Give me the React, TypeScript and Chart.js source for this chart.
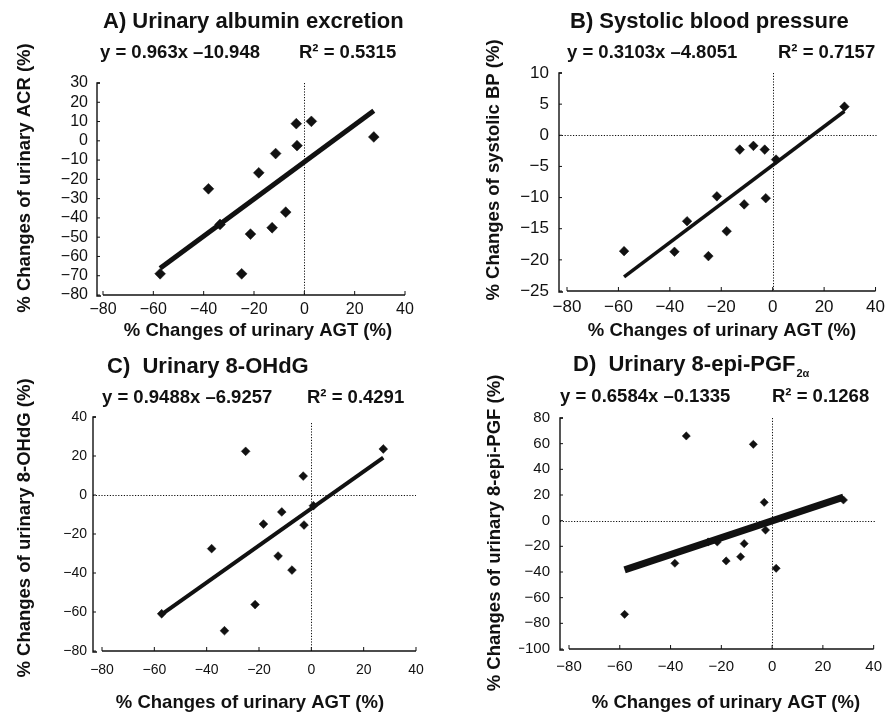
import React, { useEffect, useRef } from "react";
import { Chart, registerables } from "chart.js";

Chart.register(...registerables);

const FONT = '"Liberation Sans", Arial, Helvetica, sans-serif';
const INK = "#111111";
const PAGE_W = 891;
const PAGE_H = 713;

// Shared x axis (urinary AGT change, %)
const agtMin = -80;
const agtMax = 40;
const agtStep = 20;
const agtTitle = "% Changes of urinary AGT (%)";

// A) Urinary albumin excretion
const agtA = [-57.3, -38.1, -33.5, -24.9, -21.4, -18.1, -12.8, -11.4, -7.4, -3.2, -2.9, 2.8, 27.6];
const acrA = [-69, -24.9, -43.4, -69, -48.4, -16.6, -45.1, -6.6, -37, 8.9, -2.5, 10.1, 2];
const slopeA = 0.963;
const interceptA = -10.948;
const r2A = 0.5315;

// B) Systolic blood pressure
const agtB = [-57.8, -38.2, -33.3, -25.0, -21.7, -17.9, -12.8, -11.1, -7.5, -3.1, -2.7, 1.3, 27.9];
const sbpB = [-18.6, -18.7, -13.8, -19.4, -9.8, -15.4, -2.3, -11.1, -1.7, -2.3, -10.1, -3.9, 4.6];
const slopeB = 0.3103;
const interceptB = -4.8051;
const r2B = 0.7157;

// C) Urinary 8-OHdG
const agtC = [-57.2, -38.1, -33.2, -25.1, -21.5, -18.3, -12.7, -11.3, -7.4, -3.1, -2.8, 0.8, 27.5];
const ohdgC = [-60.9, -27.5, -69.6, 22.4, -56.2, -14.9, -31.3, -8.7, -38.5, 9.7, -15.4, -5.5, 23.6];
const slopeC = 0.9488;
const interceptC = -6.9257;
const r2C = 0.4291;

// D) Urinary 8-epi-PGF2a
const agtD = [-58.1, -38.3, -33.8, -25.2, -21.6, -18.1, -12.4, -11.0, -7.4, -3.1, -2.6, 1.6, 28.1];
const pgfD = [-73, -33.2, 66, -16.6, -16.6, -31.4, -28.1, -17.9, 59.5, 14.3, -7.3, -37.1, 16.1];
const slopeD = 0.6584;
const interceptD = -0.1335;
const r2D = 0.1268;

const eqText = (s: number, b: number) => `y = ${s}x ${b < 0 ? "\u2013" : "+"}${Math.abs(b)}`;
const r2Text = (r: number) => `R\u00B2 = ${r}`;

type PanelCfg = {
  xs: number[];
  ys: number[];
  slope: number;
  intercept: number;
  r2: number;
  yMin: number;
  yMax: number;
  yStep: number;
  area: [number, number, number, number];
  yOffset: number;
  tickSize: number;
  yPad: number;
  xPad: number;
  lineWidth: number;
  pointRadius: number;
  hZero: boolean;
  hExtend: number;
  vTopGap: number;
  title: string;
  titleSub?: string;
  titleX: number;
  titleY: number;
  eqX: number;
  r2X: number;
  eqY: number;
  yTitle: string;
  yTitleX: number;
  yTitleY: number;
  xTitleX: number;
  xTitleY: number;
};

const panels: PanelCfg[] = [
  {
    xs: agtA, ys: acrA, slope: slopeA, intercept: interceptA, r2: r2A,
    yMin: -80, yMax: 30, yStep: 10,
    area: [103, 83, 405, 295], yOffset: 6, tickSize: 16, yPad: 15, xPad: 5,
    lineWidth: 5, pointRadius: 5.4, hZero: false, hExtend: 0, vTopGap: 0,
    title: "A) Urinary albumin excretion", titleX: 103, titleY: 22,
    eqX: 100, r2X: 299, eqY: 53,
    yTitle: "% Changes of urinary ACR (%)", yTitleX: 25, yTitleY: 178,
    xTitleX: 258, xTitleY: 331,
  },
  {
    xs: agtB, ys: sbpB, slope: slopeB, intercept: interceptB, r2: r2B,
    yMin: -25, yMax: 10, yStep: 5,
    area: [567, 73, 877, 291], yOffset: 8, tickSize: 17, yPad: 18, xPad: 6,
    lineWidth: 3.6, pointRadius: 4.8, hZero: true, hExtend: 1, vTopGap: 0,
    title: "B) Systolic blood pressure", titleX: 570, titleY: 22,
    eqX: 567, r2X: 778, eqY: 53,
    yTitle: "% Changes of systolic BP (%)", yTitleX: 494, yTitleY: 170,
    xTitleX: 722, xTitleY: 331,
  },
  {
    xs: agtC, ys: ohdgC, slope: slopeC, intercept: interceptC, r2: r2C,
    yMin: -80, yMax: 40, yStep: 20,
    area: [102, 417, 416, 651], yOffset: 9, tickSize: 14, yPad: 15, xPad: 11,
    lineWidth: 4, pointRadius: 4.4, hZero: true, hExtend: 0, vTopGap: 6,
    title: "C)  Urinary 8-OHdG", titleX: 107, titleY: 367,
    eqX: 102, r2X: 307, eqY: 398,
    yTitle: "% Changes of urinary 8-OHdG (%)", yTitleX: 25, yTitleY: 528,
    xTitleX: 250, xTitleY: 703,
  },
  {
    xs: agtD, ys: pgfD, slope: slopeD, intercept: interceptD, r2: r2D,
    yMin: -100, yMax: 80, yStep: 20,
    area: [569, 418, 878, 649], yOffset: 9, tickSize: 15, yPad: 19, xPad: 9,
    lineWidth: 7, pointRadius: 4.1, hZero: true, hExtend: 2, vTopGap: 0,
    title: "D)  Urinary 8-epi-PGF", titleSub: "2\u03B1", titleX: 573, titleY: 365,
    eqX: 560, r2X: 772, eqY: 397,
    yTitle: "% Changes of urinary 8-epi-PGF (%)", yTitleX: 495, yTitleY: 533,
    xTitleX: 726, xTitleY: 703,
  },
];

const decorPlugin = {
  id: "decor",
  beforeDatasetsDraw(chart: any, _args: any, o: any) {
    const { ctx, chartArea: ca, scales } = chart;
    const x = scales.x;
    const y = scales.y;
    ctx.save();
    ctx.strokeStyle = INK;
    ctx.lineWidth = 1;
    ctx.setLineDash([1.2, 1.6]);
    const x0 = Math.round(x.getPixelForValue(0)) + 0.5;
    ctx.beginPath();
    ctx.moveTo(x0, ca.top + o.vTopGap);
    ctx.lineTo(x0, ca.bottom);
    ctx.stroke();
    const ax = ca.left - o.yOffset;
    if (o.hZero) {
      const y0 = Math.round(y.getPixelForValue(0)) + 0.5;
      ctx.beginPath();
      ctx.moveTo(ax, y0);
      ctx.lineTo(ca.right + o.hExtend, y0);
      ctx.stroke();
    }
    ctx.setLineDash([]);
    ctx.lineWidth = 1.4;
    ctx.beginPath();
    ctx.moveTo(ax + 3, ca.top);
    ctx.lineTo(ax, ca.top);
    ctx.lineTo(ax, ca.bottom + 1);
    ctx.lineTo(ax + 4, ca.bottom + 1);
    ctx.stroke();
    ctx.beginPath();
    ctx.moveTo(ca.left, ca.bottom);
    ctx.lineTo(ca.right, ca.bottom);
    ctx.stroke();
    ctx.lineWidth = 1;
    for (const t of y.ticks) {
      const py = y.getPixelForValue(t.value);
      ctx.beginPath();
      ctx.moveTo(ax, py);
      ctx.lineTo(ax + 3, py);
      ctx.stroke();
    }
    for (const t of x.ticks) {
      const px = x.getPixelForValue(t.value);
      ctx.beginPath();
      ctx.moveTo(px, ca.bottom);
      ctx.lineTo(px, ca.bottom - 4);
      ctx.stroke();
    }
    ctx.restore();
  },
  afterDraw(chart: any, _args: any, o: any) {
    const ctx = chart.ctx;
    ctx.save();
    ctx.fillStyle = INK;
    ctx.textBaseline = "middle";
    ctx.textAlign = "left";
    ctx.font = `bold 22px ${FONT}`;
    ctx.fillText(o.title, o.titleX, o.titleY);
    if (o.titleSub) {
      const w = ctx.measureText(o.title).width;
      ctx.font = `bold 11px ${FONT}`;
      ctx.fillText(o.titleSub, o.titleX + w + 1, o.titleY + 9);
    }
    ctx.font = `bold 18.5px ${FONT}`;
    ctx.fillText(o.eq, o.eqX, o.eqY);
    ctx.fillText(o.r2, o.r2X, o.eqY);
    ctx.textAlign = "center";
    ctx.fillText(o.xTitle, o.xTitleX, o.xTitleY);
    ctx.translate(o.yTitleX, o.yTitleY);
    ctx.rotate(-Math.PI / 2);
    ctx.fillText(o.yTitle, 0, 0);
    ctx.restore();
  },
};

const minusTick = (v: any) => String(v).replace("-", "\u2212");

function Panel({ cfg }: { cfg: PanelCfg }) {
  const ref = useRef<HTMLCanvasElement | null>(null);
  useEffect(() => {
    if (!ref.current) return;
    const [L, T, R, B] = cfg.area;
    const yW = 50;
    const xH = 40;
    const xLo = Math.min(...cfg.xs);
    const xHi = Math.max(...cfg.xs);
    const points = cfg.xs.map((x, i) => ({ x, y: cfg.ys[i] }));
    const fit = [xLo, xHi].map((x) => ({ x, y: cfg.slope * x + cfg.intercept }));
    const tickFont = { family: FONT, size: cfg.tickSize };
    const chart = new Chart(ref.current, {
      type: "scatter",
      data: {
        datasets: [
          {
            data: points,
            pointStyle: "rectRot",
            pointRadius: cfg.pointRadius,
            pointBackgroundColor: INK,
            pointBorderColor: INK,
            pointBorderWidth: 0.5,
            showLine: false,
          },
          {
            data: fit,
            showLine: true,
            borderColor: INK,
            borderWidth: cfg.lineWidth,
            pointRadius: 0,
            borderCapStyle: "butt",
          } as any,
        ],
      },
      options: {
        animation: false,
        responsive: false,
        events: [],
        layout: {
          padding: { left: L - yW, top: T, right: PAGE_W - R, bottom: PAGE_H - B - xH },
        },
        scales: {
          x: {
            type: "linear",
            min: agtMin,
            max: agtMax,
            afterFit: (s: any) => {
              s.height = xH;
            },
            ticks: { stepSize: agtStep, font: tickFont, color: INK, padding: cfg.xPad, callback: minusTick, maxRotation: 0, autoSkip: false },
            grid: { display: false, drawTicks: false },
            border: { display: false },
          },
          y: {
            type: "linear",
            min: cfg.yMin,
            max: cfg.yMax,
            afterFit: (s: any) => {
              s.width = yW;
            },
            ticks: { stepSize: cfg.yStep, font: tickFont, color: INK, padding: cfg.yPad, callback: minusTick, autoSkip: false },
            grid: { display: false, drawTicks: false },
            border: { display: false },
          },
        },
        plugins: {
          legend: { display: false },
          tooltip: { enabled: false },
          decor: {
            vTopGap: cfg.vTopGap,
            hZero: cfg.hZero,
            hExtend: cfg.hExtend,
            yOffset: cfg.yOffset,
            title: cfg.title,
            titleSub: cfg.titleSub || "",
            titleX: cfg.titleX,
            titleY: cfg.titleY,
            eq: eqText(cfg.slope, cfg.intercept),
            r2: r2Text(cfg.r2),
            eqX: cfg.eqX,
            r2X: cfg.r2X,
            eqY: cfg.eqY,
            xTitle: agtTitle,
            xTitleX: cfg.xTitleX,
            xTitleY: cfg.xTitleY,
            yTitle: cfg.yTitle,
            yTitleX: cfg.yTitleX,
            yTitleY: cfg.yTitleY,
          },
        } as any,
      },
      plugins: [decorPlugin as any],
    });
    return () => chart.destroy();
  }, [cfg]);
  return (
    <canvas
      ref={ref}
      width={PAGE_W}
      height={PAGE_H}
      style={{ position: "absolute", left: 0, top: 0, width: PAGE_W, height: PAGE_H }}
    />
  );
}

export default function App() {
  return (
    <div style={{ position: "absolute", left: 0, top: 0, width: PAGE_W, height: PAGE_H, background: "#fff" }}>
      {panels.map((p, i) => (
        <Panel key={i} cfg={p} />
      ))}
    </div>
  );
}
